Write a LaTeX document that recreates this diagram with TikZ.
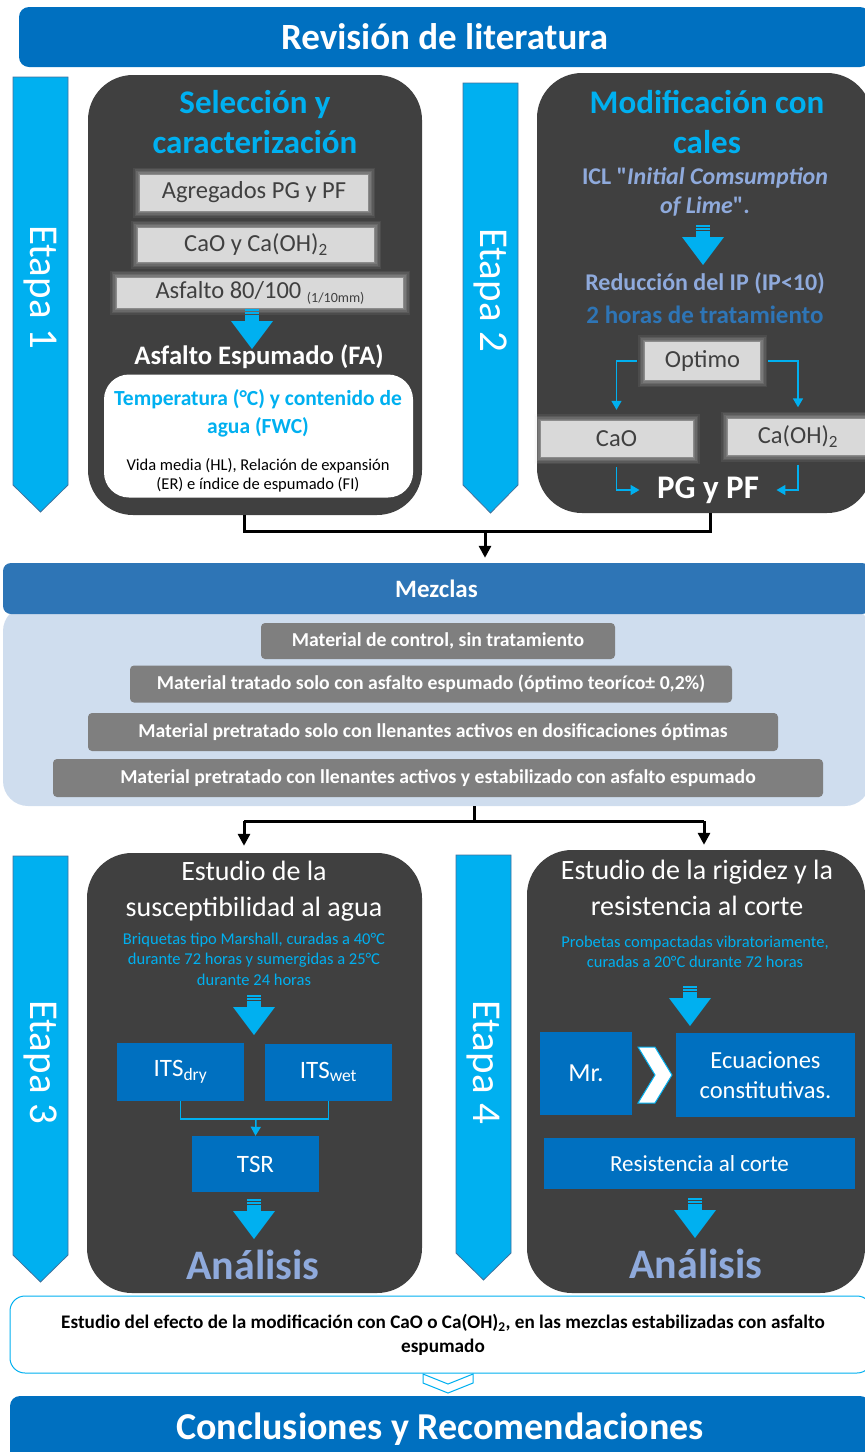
\documentclass[tikz,border=0pt]{standalone}
\usepackage{fontspec}
\setmainfont{Carlito}
\usetikzlibrary{arrows.meta}

\definecolor{revblue}{RGB}{0,112,192}
\definecolor{midblue}{RGB}{46,117,182}
\definecolor{cyanblue}{RGB}{0,176,240}
\definecolor{panelgrey}{RGB}{64,64,64}
\definecolor{softgrey}{RGB}{217,217,217}
\definecolor{bargrey}{RGB}{127,127,127}
\definecolor{paleblue}{RGB}{207,221,238}
\definecolor{lilablue}{RGB}{143,170,220}
\definecolor{etapaedge}{RGB}{65,113,156}

\newcommand{\fsz}[2]{\fontsize{#1}{#2}\selectfont}

\tikzset{
  banner/.style={fill=revblue, rounded corners=10pt, text=white, font=\bfseries\fsz{37}{40}, inner sep=0pt},
  panel/.style={fill=panelgrey, rounded corners=45pt, inner sep=0pt},
  etapa/.style={fill=cyanblue, draw=etapaedge, line width=0.8pt},
  etapalabel/.style={text=white, font=\fsz{41}{44}, rotate=-90},
  paneltitle/.style={text=cyanblue, font=\bfseries\fsz{33}{40}, align=center},
  stagetitle/.style={text=white, font=\fsz{28}{36}, align=center},
  cyantext/.style={text=cyanblue, font=\fsz{16.5}{20.5}, align=center},
  softbox/.style={fill=softgrey, text=panelgrey, font=\fsz{24.5}{26}, inner sep=0pt,
    preaction={draw=softgrey, line width=14pt, opacity=0.08},
    preaction={draw=softgrey, line width=11pt, opacity=0.1},
    preaction={draw=softgrey, line width=8pt, opacity=0.12},
    preaction={draw=softgrey, line width=5pt, opacity=0.15},
    preaction={draw=softgrey, line width=2pt, opacity=0.2}},
  bluebox/.style={fill=revblue, text=white, inner sep=0pt},
  greybar/.style={fill=bargrey, text=white, font=\bfseries\fsz{19.7}{22}, rounded corners=4pt, inner sep=0pt, minimum height=36pt},
  analisis/.style={text=lilablue, font=\bfseries\fsz{42}{46}},
  cyanline/.style={draw=cyanblue, line width=1.5pt},
  cyanarrow/.style={cyanline, -{Triangle[length=9pt,width=10pt]}},
  joinline/.style={line width=3pt},
  joinarrow/.style={line width=3pt, -{Triangle[length=12pt,width=12pt]}},
  chevron/.style={fill=white, draw=cyanblue, line width=1pt},
  downarrow/.pic={
    \fill[cyanblue] (-7,0) rectangle (7,1.5);
    \fill[cyanblue] (-7,3) rectangle (7,4.5);
    \fill[cyanblue] (-7,6) rectangle (7,13);
    \fill[cyanblue] (-21,12) -- (21,12) -- (0,40) -- cycle;
  }
}

\begin{document}
\begin{tikzpicture}[x=1pt,y=-1pt]
  \useasboundingbox (0,0) rectangle (865,1452);
  \clip (0,0) rectangle (865,1452);

  % Revision de literatura
  \node[banner, minimum width=851pt, minimum height=60pt] (revision) at (444.5,37) {Revisión de literatura};

  % etapas
  \path[etapa] (13,77) -- (68,77) -- (68,485) -- (40.5,512) -- (13,485) -- cycle;
  \node[etapalabel] (etapa1) at (40.5,287) {Etapa 1};
  \path[etapa] (463,83) -- (518,83) -- (518,485) -- (490.5,513) -- (463,485) -- cycle;
  \node[etapalabel] (etapa2) at (490.5,290) {Etapa 2};
  \path[etapa] (13,856) -- (68,856) -- (68,1255) -- (40.5,1282) -- (13,1255) -- cycle;
  \node[etapalabel] (etapa3) at (40.5,1062) {Etapa 3};
  \path[etapa] (456,855) -- (511,855) -- (511,1253) -- (483.5,1280) -- (456,1253) -- cycle;
  \node[etapalabel] (etapa4) at (483.5,1062) {Etapa 4};

  % Etapa 1: seleccion y caracterizacion
  \node[panel, minimum width=334pt, minimum height=440pt] (sel) at (255,295) {};
  \node[paneltitle] (seltitle) at (255,122) {Selección y\\caracterización};
  \node[softbox, minimum width=228pt, minimum height=36pt] (agreg) at (254,192.5) {Agregados PG y PF};
  \node[softbox, minimum width=236pt, minimum height=34pt] (cal) at (256,244.5) {CaO y Ca(OH)\textsubscript{2}};
  \node[softbox, minimum width=286pt, minimum height=30pt] (asf) at (260,292.5) {Asfalto 80/100 \raisebox{-4pt}{\fsz{14}{14}(1/10mm)}};
  \pic at (252,309) {downarrow};
  \node[text=white, font=\bfseries\fsz{26.7}{28}] (fa) at (259,357) {Asfalto Espumado (FA)};
  \node[fill=white, rounded corners=25pt, minimum width=309pt, minimum height=123pt] (fwc) at (258.5,436) {};
  \node[text=cyanblue, font=\bfseries\fsz{21.5}{28}, align=center] (temp) at (258,413) {Temperatura (°C) y contenido de\\agua (FWC)};
  \node[font=\fsz{16.5}{19}, align=center] (vida) at (258,475) {Vida media (HL), Relación de expansión\\(ER) e índice de espumado (FI)};

  % Etapa 2: modificacion con cales
  \node[panel, minimum width=335pt, minimum height=440pt] (mod) at (704.5,293) {};
  \node[paneltitle] (modtitle) at (707,122) {Modificación con\\cales};
  \node[text=lilablue, font=\bfseries\fsz{24}{29}, align=center] (icl) at (705,192) {ICL \textquotedbl\textit{Initial Comsumption}\\\textit{of Lime}\textquotedbl.};
  \pic at (703,225) {downarrow};
  \node[text=lilablue, font=\bfseries\fsz{24}{26}] (ip) at (705,283) {Reducción del IP (IP<10)};
  \node[text=midblue, font=\bfseries\fsz{25}{27}] (horas) at (705,315) {2 horas de tratamiento};
  \node[softbox, minimum width=115pt, minimum height=38pt] (optimo) at (702.5,361) {Optimo};
  \node[softbox, minimum width=152pt, minimum height=36pt] (cao) at (616.5,439) {CaO};
  \node[softbox, minimum width=140pt, minimum height=36pt] (caoh) at (798,436.5) {Ca(OH)\textsubscript{2}};
  \node[text=white, font=\bfseries\fsz{33}{36}] (pgpf) at (708,490) {PG y PF};
  \draw[cyanarrow, shorten >=11pt] ([xshift=-8pt]optimo.west) -| (cao.north);
  \draw[cyanarrow, shorten >=11pt] ([xshift=8pt]optimo.east) -| (caoh.north);
  \draw[cyanarrow, shorten >=14pt] ([yshift=-10pt]cao.south) |- (pgpf.west);
  \draw[cyanarrow, shorten >=14pt] ([yshift=-10pt]caoh.south) |- (pgpf.east);

  % Mezclas
  \node[fill=paleblue, rounded corners=25pt, minimum width=867pt, minimum height=200pt, inner sep=0pt] (mezclasbg) at (436.5,706) {};
  \node[fill=midblue, rounded corners=8pt, minimum width=867pt, minimum height=51pt, inner sep=0pt, text=white, font=\bfseries\fsz{25}{27}] (mezclas) at (436.5,588.5) {Mezclas};
  \node[greybar, minimum width=354pt] (m1) at (438,641) {Material de control, sin tratamiento};
  \node[greybar, minimum width=602pt, minimum height=37pt] (m2) at (431,684) {Material tratado solo con asfalto espumado (óptimo teoríco± 0,2\%)};
  \node[greybar, minimum width=690pt, minimum height=38pt] (m3) at (433,732) {Material pretratado solo con llenantes activos en dosificaciones óptimas};
  \node[greybar, minimum width=770pt, minimum height=38pt] (m4) at (438,778) {Material pretratado con llenantes activos y estabilizado con asfalto espumado};

  \coordinate (jl) at (244,531);
  \coordinate (jr) at (710,531);
  \coordinate (jm) at (485,531);
  \draw[joinline] (sel.south -| jl) -- (jl) -- (jr) -- (mod.south -| jr);
  \draw[joinarrow, shorten >=5pt] (jm) -- (jm |- mezclas.north);

  % Etapa 3: susceptibilidad al agua
  \node[panel, minimum width=335pt, minimum height=440pt] (sus) at (254.5,1073) {};
  \node[stagetitle] (sustitle) at (254,891) {Estudio de la\\susceptibilidad al agua};
  \node[cyantext] (briq) at (254,959) {Briquetas tipo Marshall, curadas a 40°C\\durante 72 horas y sumergidas a 25°C\\durante 24 horas};
  \pic at (254,995) {downarrow};
  \node[bluebox, minimum width=127pt, minimum height=58pt, font=\fsz{25}{28}] (itsdry) at (180.5,1072) {ITS\textsubscript{dry}};
  \node[bluebox, minimum width=127pt, minimum height=57pt, font=\fsz{25}{28}] (itswet) at (328.5,1072) {ITS\textsubscript{wet}};
  \node[bluebox, minimum width=127pt, minimum height=56pt, font=\fsz{25}{28}] (tsr) at (255.5,1164) {TSR};
  \coordinate (tjoin) at (256,1119);
  \draw[cyanline] (itsdry.south) |- (tjoin) -| (itswet.south);
  \draw[cyanarrow] (tjoin) -- (tsr.north);
  \pic at (254,1199) {downarrow};
  \node[analisis] (anal3) at (253,1265) {Análisis};

  % Etapa 4: rigidez y resistencia al corte
  \node[panel, minimum width=338pt, minimum height=443pt] (rig) at (696,1071.5) {};
  \node[stagetitle] (rigtitle) at (697,888) {Estudio de la rigidez y la\\resistencia al corte};
  \node[cyantext] (prob) at (695,952) {Probetas compactadas vibratoriamente,\\curadas a 20°C durante 72 horas};
  \pic at (690,986) {downarrow};
  \node[bluebox, minimum width=92pt, minimum height=83pt, font=\fsz{26}{29}] (mr) at (586,1073.5) {Mr.};
  \path[chevron] (638,1047) -- (655,1047) -- (672,1075) -- (655,1103) -- (638,1103) -- (655,1075) -- cycle;
  \node[bluebox, minimum width=179pt, minimum height=84pt, font=\fsz{24.5}{30}, align=center] (ecu) at (765.5,1075) {Ecuaciones\\constitutivas.};
  \node[bluebox, minimum width=311pt, minimum height=51pt, font=\fsz{23}{26}] (res) at (699.5,1163.5) {Resistencia al corte};
  \pic at (695,1198) {downarrow};
  \node[analisis] (anal4) at (696,1264) {Análisis};

  \coordinate (kl) at (244,821);
  \coordinate (kr) at (704,821);
  \coordinate (km) at (474,821);
  \draw[joinline] (mezclasbg.south -| km) -- (km);
  \draw[joinline] (kl) -- (kr);
  \draw[joinarrow, shorten >=7pt] (kl) -- (kl |- sus.north);
  \draw[joinarrow, shorten >=5pt] (kr) -- (kr |- rig.north);

  % efecto y conclusiones
  \node[fill=white, draw=cyanblue, line width=1pt, rounded corners=15pt, minimum width=862pt, minimum height=77pt] (efecto) at (441,1334.5) {};
  \node[font=\bfseries\fsz{19.2}{24}, align=center] (efectotxt) at (443,1334.5) {Estudio del efecto de la modificación con CaO o Ca(OH)\textsubscript{2}, en las mezclas estabilizadas con asfalto\\espumado};
  \path[chevron] (423,1374) -- (448,1384) -- (473,1374) -- (473,1383) -- (448,1393) -- (423,1383) -- cycle;
  \node[banner, minimum width=860pt, minimum height=66pt, font=\bfseries\fsz{38}{40}] (concl) at (440,1429) {Conclusiones y Recomendaciones};
\end{tikzpicture}
\end{document}
